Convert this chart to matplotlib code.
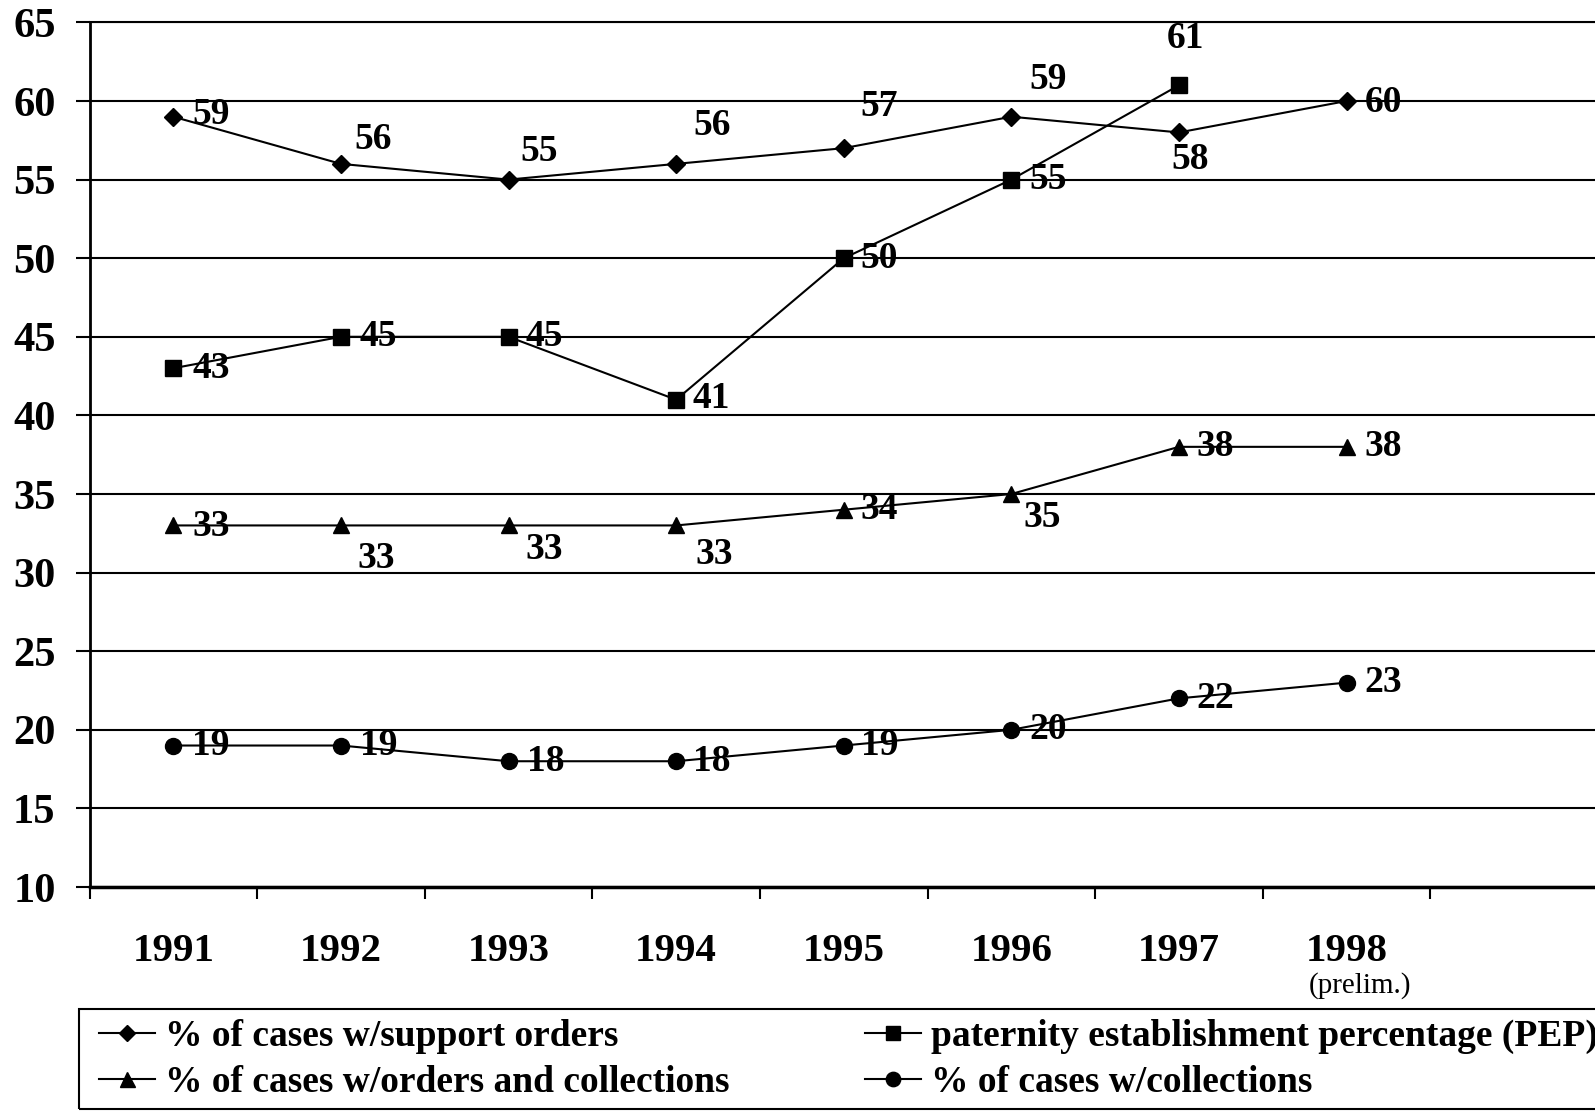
import numpy as np
import matplotlib
matplotlib.use('Agg')
import matplotlib.pyplot as plt
from matplotlib.patches import Rectangle

plt.rcParams['font.family'] = ['Liberation Serif', 'DejaVu Serif']
plt.rcParams['font.weight'] = 'bold'

years = ['1991', '1992', '1993', '1994', '1995', '1996', '1997', '1998']
support_orders = [59, 56, 55, 56, 57, 59, 58, 60]
pep = [43, 45, 45, 41, 50, 55, 61]
orders_collections = [33, 33, 33, 33, 34, 35, 38, 38]
collections = [19, 19, 18, 18, 19, 20, 22, 23]

labels = ['% of cases w/support orders',
          'paternity establishment percentage (PEP)',
          '% of cases w/orders and collections',
          '% of cases w/collections']

off_support = [(37, 2), (32, 24), (30, 28), (35, 38), (35, 41), (36, 37), (11, -27), (36, -1)]
off_pep = [(37, 0), (37, 0), (35, 0), (35, 1), (35, 0), (36, 0), (6, 46)]
off_oc = [(37, -1), (35, -33), (35, -24), (37, -29), (35, 0), (30, -23), (36, 0), (36, 0)]
off_coll = [(37, 0), (37, 0), (37, 0), (35, 0), (35, 0), (36, 0), (36, 0), (36, 0)]

W, H = 1595, 1111
fig = plt.figure(figsize=(W / 100, H / 100), dpi=100)
ax = fig.add_axes([89.5 / W, 1 - 887 / H, (1598 - 89.5) / W, (887 - 22.4) / H])

x = np.arange(len(years)) + 0.5
series = [(support_orders, 'D', 9.5, off_support),
          (pep, 's', 11, off_pep),
          (orders_collections, '^', 12, off_oc),
          (collections, 'o', 11.5, off_coll)]
lines = []
for vals, mk, ms, offs in series:
    xx = x[:len(vals)]
    ln, = ax.plot(xx, vals, color='black', lw=1.5, marker=mk, ms=ms, zorder=3)
    lines.append(ln)
    for xi, v, (dx, dy) in zip(xx, vals, offs):
        ax.annotate(str(v), (xi, v), xytext=(dx * 0.732, dy * 0.732), textcoords='offset points',
                    ha='center', va='center', fontsize=27, fontweight='bold', zorder=4)

ax.set_xlim(0, 9)
ax.set_ylim(10, 65)
ax.set_yticks(np.arange(10, 66, 5))
ax.yaxis.grid(True, color='black', lw=1.5)
ax.set_axisbelow(True)

ax.set_xticks(np.arange(0, 10))
ax.set_xticklabels([])
ax.set_xticks(x, minor=True)
ax.set_xticklabels(years, minor=True)
ax.tick_params(axis='x', which='minor', length=0, pad=33, labelsize=29.5)
ax.tick_params(axis='x', which='major', direction='out', length=8.5, width=1.5)
ax.tick_params(axis='y', direction='out', length=10, width=1.5, pad=14.4, labelsize=30.5)
for lab in ax.get_yticklabels() + ax.get_xticklabels(minor=True):
    lab.set_fontweight('bold')

ax.spines['right'].set_visible(False)
ax.spines['top'].set_linewidth(1.5)
ax.spines['left'].set_linewidth(2)
ax.spines['bottom'].set_linewidth(2.5)

fig.text(1337 * 1.0172 / W, 1 - 969 * 1.0172 / H, '(prelim.)', ha='center', va='center',
         fontsize=21, fontweight='normal')

# legend frame drawn by hand so it can run off the right edge like the reference
fig.patches.append(Rectangle((79 / W, 2 / H), 1.05 - 79 / W, 100 / H,
                             transform=fig.transFigure, fill=False, edgecolor='black', lw=1.5))
handles = [lines[0], lines[2], lines[1], lines[3]]
hlabels = [labels[0], labels[2], labels[1], labels[3]]
leg = fig.legend(handles, hlabels, ncol=2, loc='upper left',
                 bbox_to_anchor=(99 / W, 1 - 1019 / H), borderaxespad=0, borderpad=0,
                 prop={'size': 27, 'weight': 'bold'}, frameon=False,
                 handlelength=1.5, handletextpad=0.27, labelspacing=0.3,
                 columnspacing=3.6, markerscale=0.9)

fig.savefig('out.png', dpi=100)
